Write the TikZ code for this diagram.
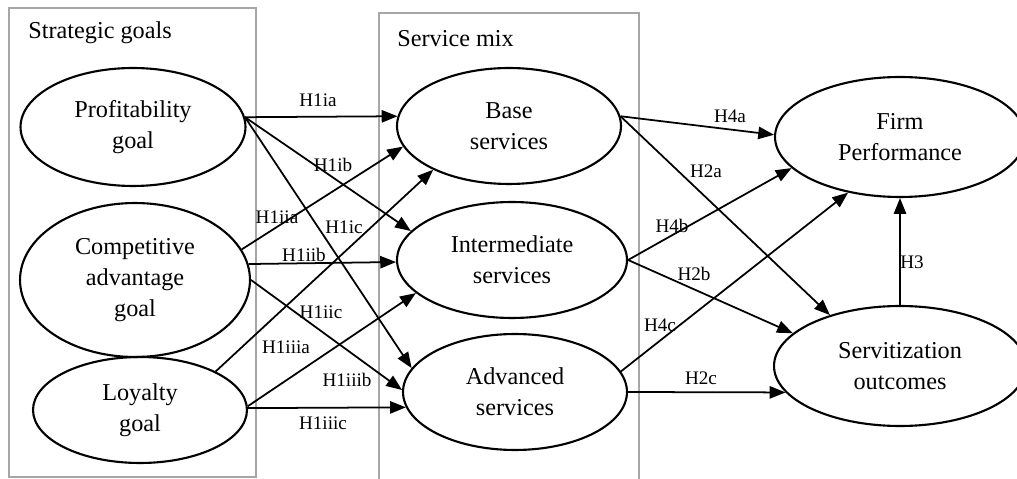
\documentclass[tikz,border=0pt]{standalone}
\usepackage{fontspec}
\setmainfont{Liberation Serif}
\usetikzlibrary{shapes.geometric,arrows.meta}

\begin{document}
\begin{tikzpicture}
  [x=0.02cm, y=-0.02cm,
    construct/.style={draw, ellipse, line width=1.2pt, align=center, inner sep=1pt,
      font=\fontsize{13.8}{17.5}\selectfont},
    title/.style={anchor=west, inner sep=0pt, font=\fontsize{13.8}{17}\selectfont},
    hyp/.style={inner sep=0pt, font=\fontsize{10.9}{12}\selectfont},
    link/.style={-{Triangle[length=9pt,width=7pt]}, line width=1pt},
    frame/.style={draw=black!35, line width=1.2pt},
  ]
\useasboundingbox (0,0) rectangle (1017,479);

% the two groups
\draw[frame] (9,8) rectangle (256,477);
\draw[frame] (379,479) -- (379,13) -- (639,13) -- (639,479);
\node[title] (strategic) at (28,33) {Strategic goals};
\node[title] (mix) at (397,39) {Service mix};

% constructs
\node[construct, minimum width=4.5cm, minimum height=2.36cm] (prof) at (133,127) {Profitability\\goal};
\node[construct, minimum width=4.6cm, minimum height=3.08cm] (comp) at (135,280) {Competitive\\advantage\\goal};
\node[construct, minimum width=4.28cm, minimum height=2.12cm] (loy) at (140,410) {Loyalty\\goal};
\node[construct, minimum width=4.48cm, minimum height=2.32cm] (base) at (509,126) {Base\\services};
\node[construct, minimum width=4.6cm, minimum height=2.32cm] (inter) at (512,260) {Intermediate\\services};
\node[construct, minimum width=4.48cm, minimum height=2.32cm] (adv) at (515,392) {Advanced\\services};
\node[construct, minimum width=5cm, minimum height=2.4cm] (firm) at (900,137) {Firm\\Performance};
\node[construct, minimum width=5.04cm, minimum height=2.4cm] (serv) at (900,366) {Servitization\\outcomes};

% hypotheses H1
\draw[link] (prof.5) -- (base.175);
\draw[link] (prof.5) -- (inter.164);
\draw[link] (prof.5) -- (adv.167);
\draw[link] (comp.16) -- (base.191);
\draw[link] (comp.8) -- (inter.181);
\draw[link] (comp.0) -- (adv.179);
\draw[link] (loy.27) -- (base.210);
\draw[link] (loy.2) -- (inter.199);
\draw[link] (loy.1) -- (adv.188);

% hypotheses H2, H3, H4
\draw[link] (base.5) -- (firm.179);
\draw[link] (base.5) -- (serv.144);
\draw[link] (inter.0) -- (firm.196);
\draw[link] (inter.0) -- (serv.163);
\draw[link] (adv.11) -- (firm.227);
\draw[link] (adv.0) -- (serv.193);
\draw[link] (serv.north) -- (firm.south);

% labels
\node[hyp] (h1ia) at (318,100) {H1ia};
\node[hyp] (h1ib) at (333,165) {H1ib};
\node[hyp] (h1ic) at (344,227) {H1ic};
\node[hyp] (h1iia) at (277,217) {H1iia};
\node[hyp] (h1iib) at (304,255) {H1iib};
\node[hyp] (h1iic) at (321,312) {H1iic};
\node[hyp] (h1iiia) at (286,347) {H1iiia};
\node[hyp] (h1iiib) at (347,380) {H1iiib};
\node[hyp] (h1iiic) at (323,423) {H1iiic};
\node[hyp] (h4a) at (730,116) {H4a};
\node[hyp] (h2a) at (706,171) {H2a};
\node[hyp] (h4b) at (672,226) {H4b};
\node[hyp] (h2b) at (694,274) {H2b};
\node[hyp] (h4c) at (660,325) {H4c};
\node[hyp] (h2c) at (701,378) {H2c};
\node[hyp] (h3) at (912,262) {H3};
\end{tikzpicture}
\end{document}
